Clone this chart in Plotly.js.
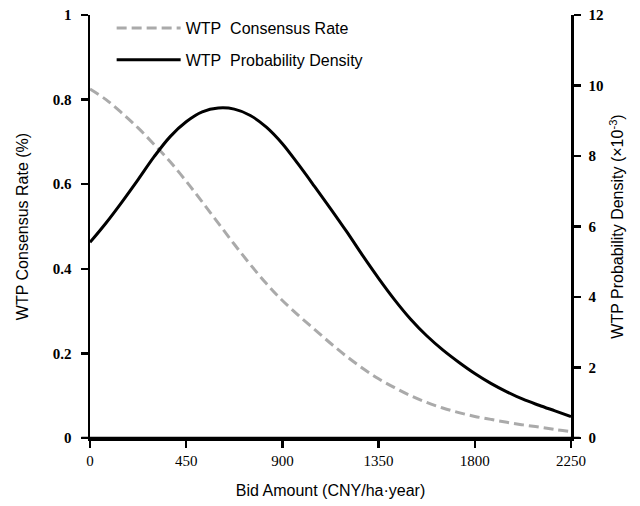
<!DOCTYPE html>
<html>
<head>
<meta charset="utf-8">
<script src="https://cdn.plot.ly/plotly-3.0.1.min.js"></script>
<style>html,body{margin:0;padding:0;background:#fff;}#chart{width:640px;height:506px;}</style>
</head>
<body>
<div id="chart"></div>
<script>
// Bid amount (CNY/ha·year)
var bidAmount = [0, 75, 150, 225, 300, 375, 450, 525, 600, 675, 750, 825, 900, 975, 1050, 1125,
                 1200, 1275, 1350, 1425, 1500, 1575, 1650, 1725, 1800, 1875, 1950, 2025, 2100, 2175, 2250];
// WTP consensus rate (left axis)
var consensusRate = [0.825, 0.800, 0.768, 0.733, 0.694, 0.653, 0.607, 0.558, 0.508, 0.458, 0.410, 0.365, 0.325, 0.290, 0.257, 0.224,
                     0.193, 0.165, 0.140, 0.119, 0.100, 0.084, 0.071, 0.060, 0.051, 0.044, 0.037, 0.031, 0.026, 0.020, 0.015];
// WTP probability density (×10^-3, right axis)
var probDensity = [5.55, 6.10, 6.70, 7.33, 7.98, 8.55, 8.97, 9.25, 9.36, 9.33, 9.15, 8.82, 8.35, 7.76, 7.14, 6.51,
                   5.86, 5.18, 4.53, 3.92, 3.37, 2.90, 2.50, 2.15, 1.83, 1.55, 1.31, 1.10, 0.93, 0.77, 0.61];

var xTicks = [0, 450, 900, 1350, 1800, 2250];
var leftTicks = [0, 0.2, 0.4, 0.6, 0.8, 1];
var leftTickText = ['0', '0.2', '0.4', '0.6', '0.8', '1'];
var rightTicks = [0, 2, 4, 6, 8, 10, 12];

var sans = 'Liberation Sans, Arial, sans-serif';
var serif = 'Liberation Serif, Times New Roman, serif';

var traces = [
  {
    x: bidAmount, y: consensusRate, type: 'scatter', mode: 'lines',
    name: 'WTP&nbsp;&nbsp;Consensus Rate',
    line: {color: '#aaaaaa', width: 3, dash: '10px,5px', shape: 'spline', smoothing: 1},
    yaxis: 'y', legend: 'legend'
  },
  {
    x: bidAmount, y: probDensity, type: 'scatter', mode: 'lines',
    name: 'WTP&nbsp;&nbsp;Probability Density',
    line: {color: '#000000', width: 3, shape: 'spline', smoothing: 1},
    yaxis: 'y2', legend: 'legend2'
  }
];

var layout = {
  width: 640, height: 506,
  margin: {l: 90, r: 69, t: 14, b: 68},
  paper_bgcolor: '#ffffff', plot_bgcolor: '#ffffff',
  showlegend: true,
  xaxis: {
    range: [0, 2250], tickvals: xTicks, ticktext: xTicks.map(String),
    showgrid: false, zeroline: false,
    showline: true, linecolor: '#000', linewidth: 2.5,
    ticks: 'outside', ticklen: 7, tickwidth: 2.5, tickcolor: '#000',
    tickfont: {family: serif, size: 15, color: '#000'},
    title: {text: 'Bid Amount (CNY/ha·year)', font: {family: sans, size: 16, color: '#000'}, standoff: 18}
  },
  yaxis: {
    range: [0, 1], tickvals: leftTicks, ticktext: leftTickText,
    showgrid: false, zeroline: false,
    showline: true, linecolor: '#000', linewidth: 2.5,
    ticks: 'outside', ticklen: 7, tickwidth: 2.5, tickcolor: '#000',
    ticklabelstandoff: 6,
    tickfont: {family: serif, size: 15, color: '#000', weight: 'bold'},
    title: {text: 'WTP Consensus Rate (%)', font: {family: sans, size: 16, color: '#000'}, standoff: 20}
  },
  yaxis2: {
    range: [0, 12], tickvals: rightTicks, ticktext: rightTicks.map(String),
    overlaying: 'y', side: 'right', anchor: 'x',
    showgrid: false, zeroline: false,
    showline: true, linecolor: '#000', linewidth: 2.5,
    ticks: 'outside', ticklen: 7, tickwidth: 2.5, tickcolor: '#000',
    ticklabelstandoff: 5,
    tickfont: {family: serif, size: 15, color: '#000', weight: 'bold'},
    title: {text: 'WTP Probability Density (×10<sup>-3</sup>)', font: {family: sans, size: 16, color: '#000'}, standoff: 10}
  },
  legend: {
    x: 0.045, y: 1.007, xanchor: 'left', yanchor: 'top',
    bgcolor: 'rgba(0,0,0,0)', font: {family: sans, size: 16, color: '#000'},
    itemwidth: 64
  },
  legend2: {
    x: 0.045, y: 0.932, xanchor: 'left', yanchor: 'top',
    bgcolor: 'rgba(0,0,0,0)', font: {family: sans, size: 16, color: '#000'},
    itemwidth: 64
  },
  shapes: [
    {type: 'line', xref: 'paper', yref: 'y', x0: -0.018, x1: 1.018, y0: 0, y1: 0,
     line: {color: '#000', width: 2.5}}
  ]
};

Plotly.newPlot('chart', traces, layout, {displayModeBar: false, staticPlot: true});
</script>
</body>
</html>
